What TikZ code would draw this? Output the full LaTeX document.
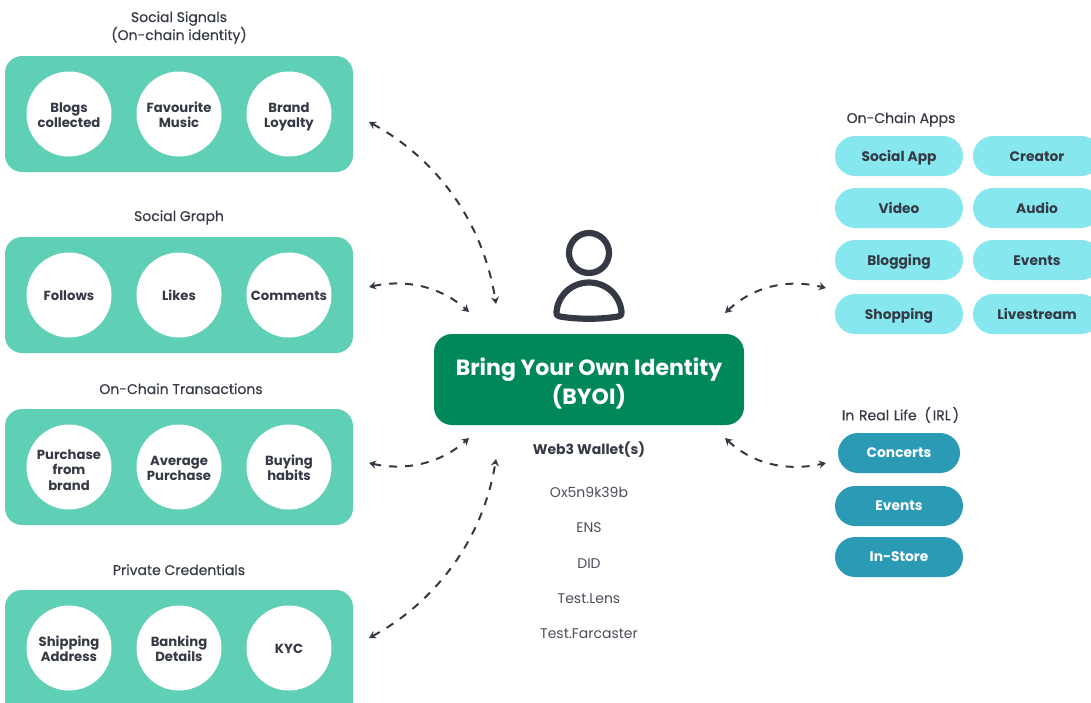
\documentclass[tikz,border=0pt]{standalone}
\usepackage{fontspec}
\setmainfont{Poppins}
\newfontfamily\headfont[FakeBold=0.3]{Poppins}
\usetikzlibrary{arrows.meta}
\definecolor{ink}{HTML}{343944}
\definecolor{soft}{HTML}{4A4E58}
\definecolor{panel}{HTML}{5FD0B6}
\definecolor{pill}{HTML}{86E7EE}
\definecolor{irl}{HTML}{2A9AB5}
\definecolor{core}{HTML}{00875A}
\newcommand\topfix[1]{\rule{0pt}{#1pt}}
\tikzset{
  x=1pt,y=-1pt,
  panelbox/.style={fill=panel,rounded corners=17pt},
  disc/.style={circle,fill=white,minimum size=85pt,inner sep=0pt,text=ink,align=center,font=\fontsize{13.2}{15.5}\selectfont\bfseries,execute at begin node=\topfix{16}\strut,execute at end node=\strut},
  pillbox/.style={fill=pill,rounded corners=20pt,minimum width=128pt,minimum height=40pt,inner sep=0pt,text=ink,font=\fontsize{13.8}{15}\selectfont\bfseries,execute at begin node=\topfix{14.5}\strut},
  irlbox/.style={fill=irl,rounded corners=20pt,minimum width=128pt,minimum height=40pt,inner sep=0pt,text=white,font=\fontsize{13.8}{15}\selectfont\bfseries,execute at begin node=\topfix{14}\strut},
  head/.style={text=ink,align=center,inner sep=0pt,font=\fontsize{14}{18}\selectfont\headfont,execute at begin node=\strut,execute at end node=\strut},
  plain/.style={text=soft,inner sep=0pt,font=\fontsize{14}{16}\selectfont,execute at begin node=\strut},
  link/.style={draw=ink,line width=2pt,dash pattern=on 8pt off 8pt,{Stealth[length=7pt,width=8pt]}-{Stealth[length=7pt,width=8pt]}},
}
\begin{document}
\begin{tikzpicture}
\useasboundingbox (0,0) rectangle (1091,702);
\clip (0,0) rectangle (1091,702);
% left panels
\fill[panelbox] (5,56) rectangle (353,172);
\fill[panelbox] (5,237) rectangle (353,353);
\fill[panelbox] (5,409) rectangle (353,525);
\fill[panelbox] (5,590) rectangle (353,720);
\node[head] (h1) at (179,28.4) {Social Signals\\(On-chain identity)};
\node[head] (h2) at (179,217.4) {Social Graph};
\node[head] (h3) at (181,390.4) {On-Chain Transactions};
\node[head] (h4) at (179,571.4) {Private Credentials};
\node[disc] (a1) at (69,114) {\topfix{17}Blogs\\collected};
\node[disc] (a2) at (179,114) {\topfix{17}Favourite\\Music};
\node[disc] (a3) at (289,114) {\topfix{17}Brand\\Loyalty};
\node[disc] (b1) at (69,295) {Follows};
\node[disc] (b2) at (179,295) {Likes};
\node[disc] (b3) at (289,295) {Comments};
\node[disc] (c1) at (69,467) {\topfix{20}Purchase\\from\\brand};
\node[disc] (c2) at (179,467) {\topfix{17}Average\\Purchase};
\node[disc] (c3) at (289,467) {\topfix{17}Buying\\habits};
\node[disc] (d1) at (69,648) {\topfix{17}Shipping\\Address};
\node[disc] (d2) at (179,648) {\topfix{17}Banking\\Details};
\node[disc] (d3) at (289,648) {KYC};
% centre
\node[fill=core,rounded corners=18pt,minimum width=310pt,minimum height=91pt,inner sep=0pt,text=white,align=center,font=\fontsize{22}{27}\selectfont\bfseries] (core) at (589,379.5) {\topfix{29.5}\strut Bring Your Own Identity\\(BYOI)\strut};
\draw[ink,line width=6.2pt] (589,253) circle (20);
\draw[ink,line width=6.2pt,line join=round] (556.5,312) .. controls (558,295) and (572,282.5) .. (589,282.5) .. controls (606,282.5) and (620,295) .. (621.5,312) .. controls (622,315) and (621,316) .. (618,316.5) .. controls (600,319.5) and (578,319.5) .. (560,316.5) .. controls (557,316) and (556,315) .. (556.5,312) -- cycle;
\node[plain,text=ink,font=\fontsize{14}{16}\selectfont\bfseries] (w0) at (589,450) {Web3 Wallet(s)};
\node[plain] (w1) at (589,494) {Ox5n9k39b};
\node[plain] (w2) at (589,529) {ENS};
\node[plain] (w3) at (589,565) {DID};
\node[plain] (w4) at (589,600) {Test.Lens};
\node[plain] (w5) at (589,635) {Test.Farcaster};
% right
\node[head] (h5) at (901,119.4) {On-Chain Apps};
\node[pillbox] (p1) at (899,156) {Social App};
\node[pillbox] (p2) at (1037,156) {Creator};
\node[pillbox] (p3) at (899,208) {Video};
\node[pillbox] (p4) at (1037,208) {Audio};
\node[pillbox] (p5) at (899,260) {Blogging};
\node[pillbox] (p6) at (1037,260) {Events};
\node[pillbox] (p7) at (899,314) {Shopping};
\node[pillbox] (p8) at (1037,314) {Livestream};
\node[head] (h6) at (900.5,416.4) {In\hspace{1pt} Real\hspace{1pt} Life\hspace{1pt} \hspace{3pt}(\hspace{2pt}IRL\hspace{2pt})};
\node[irlbox,minimum width=122pt] (q1) at (899,453) {Concerts};
\node[irlbox] (q2) at (899,506) {Events};
\node[irlbox] (q3) at (899,557) {In-Store};
% connector ends
\coordinate (e1a) at (369,122); \coordinate (e1b) at (496,304);
\coordinate (e2a) at (369,287); \coordinate (e2b) at (469,312);
\coordinate (e3a) at (369,463); \coordinate (e3b) at (469,438);
\coordinate (e4a) at (369,638); \coordinate (e4b) at (496,459);
\coordinate (e5a) at (725,313); \coordinate (e5b) at (826,288);
\coordinate (e6a) at (725,438); \coordinate (e6b) at (826,463);
\draw[link] (e1a) .. controls (430,155) and (482,215) .. (e1b);
\draw[link] (e2a) .. controls (405,279) and (440,286) .. (e2b);
\draw[link] (e3a) .. controls (405,471) and (440,464) .. (e3b);
\draw[link] (e4a) .. controls (430,605) and (482,545) .. (e4b);
\draw[link] (e5a) .. controls (755,285) and (790,279) .. (e5b);
\draw[link] (e6a) .. controls (755,466) and (790,471) .. (e6b);
\end{tikzpicture}
\end{document}
